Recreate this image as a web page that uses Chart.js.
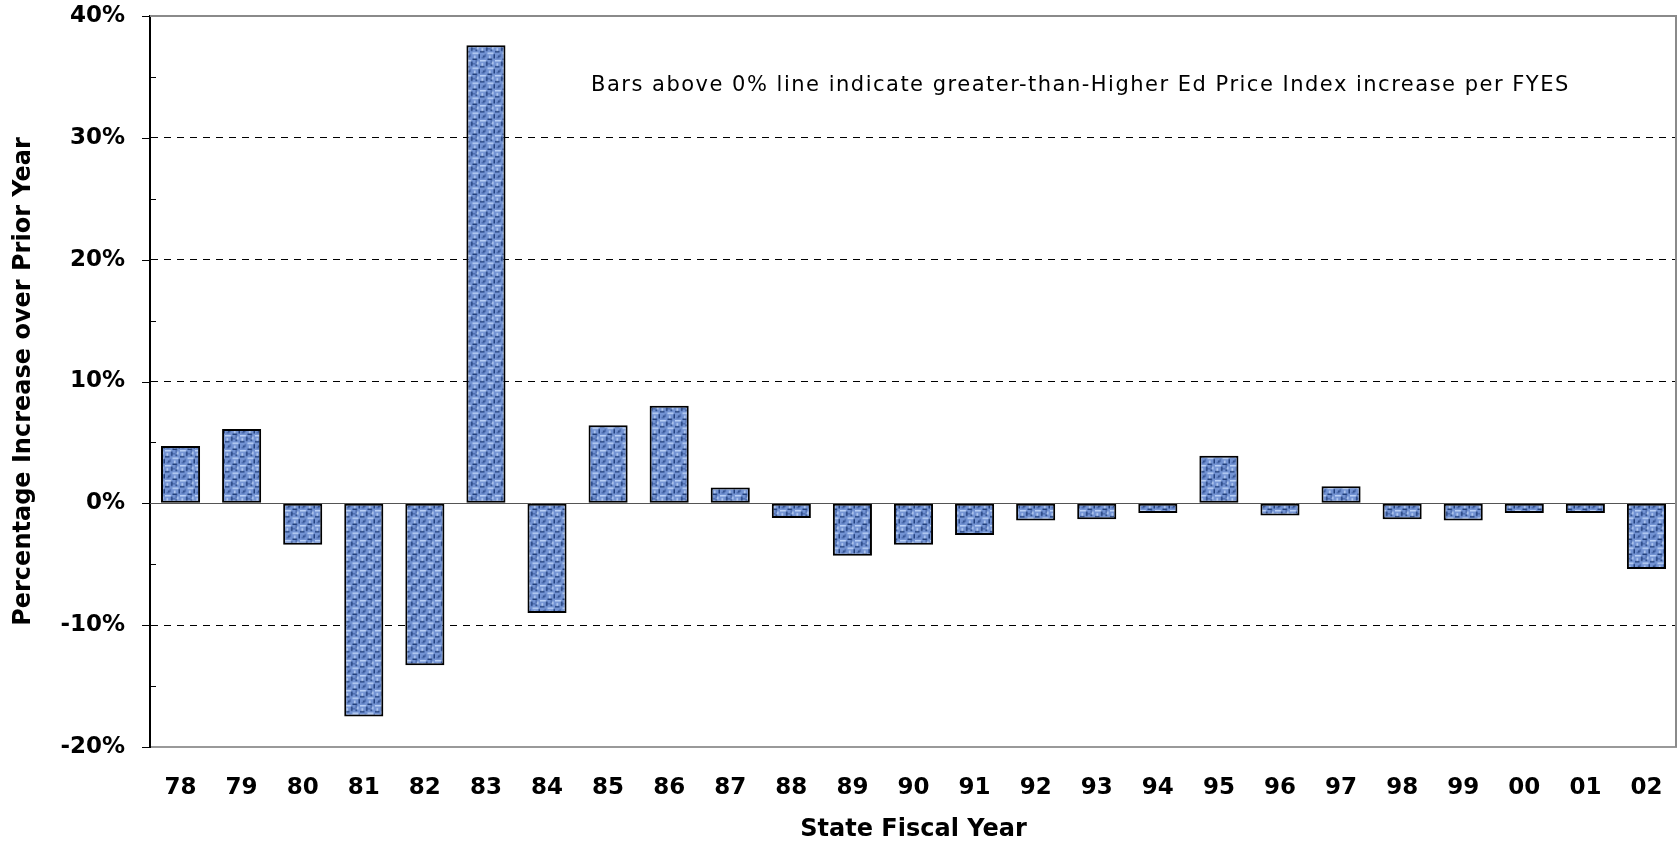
<!DOCTYPE html>
<html>
<head>
<meta charset="utf-8">
<script src="https://cdn.jsdelivr.net/npm/chart.js@4/dist/chart.umd.min.js"></script>
<style>
  body { margin: 0; background: #fff; }
  #wrap { width: 1677px; height: 843px; }
</style>
</head>
<body>
<div id="wrap"><canvas id="chartCanvas" width="1677" height="843"></canvas></div>
<script>
// state fiscal years and % increase over prior year
const years = ["78", "79", "80", "81", "82", "83", "84", "85", "86", "87", "88", "89",
  "90", "91", "92", "93", "94", "95", "96", "97", "98", "99", "00", "01", "02"];
const pctIncrease = [4.7, 6.1, -3.4, -17.5, -13.3, 37.6, -9.0, 6.4, 8.0, 1.3, -1.2, -4.3,
  -3.4, -2.6, -1.4, -1.3, -0.8, 3.9, -1.0, 1.4, -1.3, -1.4, -0.8, -0.8, -5.4];
const yTicks = [-20, -10, 0, 10, 20, 30, 40];
const noteText = "Bars above 0% line indicate greater-than-Higher Ed Price Index increase per FYES";

// woven blue texture for the bars (drawn small, scaled up so it blurs a bit)
function makeTexture() {
  const c = document.createElement("canvas");
  c.width = 10;
  c.height = 10;
  const g = c.getContext("2d");
  g.fillStyle = "#7393d3";
  g.fillRect(0, 0, 10, 10);
  g.fillStyle = "#b9cff4";
  g.fillRect(0, 0, 4, 1);
  g.fillRect(5, 5, 4, 1);
  g.fillRect(1, 2, 1, 2);
  g.fillRect(6, 7, 1, 2);
  g.fillRect(8, 1, 1, 2);
  g.fillStyle = "#22407c";
  g.fillRect(4, 1, 1, 3);
  g.fillRect(9, 6, 1, 3);
  g.fillRect(0, 4, 3, 1);
  g.fillRect(5, 9, 3, 1);
  g.fillRect(2, 7, 1, 1);
  g.fillRect(7, 3, 1, 1);
  g.fillStyle = "#4a6aac";
  g.fillRect(3, 6, 1, 2);
  g.fillRect(7, 0, 1, 2);
  g.fillRect(1, 8, 2, 1);
  g.fillRect(5, 2, 2, 1);
  const big = document.createElement("canvas");
  big.width = 15;
  big.height = 15;
  const bg = big.getContext("2d");
  bg.imageSmoothingEnabled = true;
  bg.drawImage(c, 0, 0, 15, 15);
  return bg.createPattern(big, "repeat");
}

const framePlugin = {
  id: "frame",
  afterDraw(chart) {
    const { ctx, chartArea: a, scales } = chart;
    const y = scales.y;
    ctx.save();
    // tick marks: major outside, minor inside the axis
    ctx.strokeStyle = "#000";
    ctx.lineWidth = 1;
    y.ticks.forEach((t) => {
      const py = Math.round(y.getPixelForValue(t.value)) + 0.5;
      ctx.beginPath();
      if (t.value % 10 !== 0) {
        ctx.moveTo(a.left, py);
        ctx.lineTo(a.left + 6, py);
      } else {
        ctx.moveTo(a.left - 8, py);
        ctx.lineTo(a.left, py);
      }
      ctx.stroke();
    });
    // zero line
    const z = Math.round(y.getPixelForValue(0)) + 0.5;
    ctx.strokeStyle = "#555";
    ctx.beginPath();
    ctx.moveTo(a.left, z);
    ctx.lineTo(a.right, z);
    ctx.stroke();
    // top and right border
    ctx.strokeStyle = "#8a8a8a";
    ctx.lineWidth = 2;
    ctx.beginPath();
    ctx.moveTo(a.left, a.top);
    ctx.lineTo(a.right - 1, a.top);
    ctx.lineTo(a.right - 1, a.bottom);
    ctx.stroke();
    // note text
    ctx.fillStyle = "#000";
    ctx.font = '21px "DejaVu Sans"';
    ctx.letterSpacing = "1.5px";
    ctx.textAlign = "left";
    ctx.textBaseline = "middle";
    ctx.fillText(noteText, scales.x.getPixelForValue(6.72), y.getPixelForValue(34.3));
    ctx.restore();
  },
};

const ctx = document.getElementById("chartCanvas").getContext("2d");

const chart = new Chart(ctx, {
  type: "bar",
  data: {
    labels: years,
    datasets: [
      {
        data: pctIncrease,
        backgroundColor: makeTexture(),
        borderColor: "#000",
        borderWidth: 2,
        borderSkipped: false,
        barPercentage: 0.64,
        categoryPercentage: 1,
      },
    ],
  },
  options: {
    responsive: false,
    devicePixelRatio: 1,
    animation: false,
    layout: { padding: { top: 16, right: 0, left: 0, bottom: 0 } },
    plugins: { legend: { display: false }, tooltip: { enabled: false } },
    scales: {
      x: {
        afterFit: (s) => {
          s.height = 96;
        },
        grid: { display: true, drawOnChartArea: false, drawTicks: true, tickLength: 27, tickColor: "rgba(0,0,0,0)", color: "rgba(0,0,0,0)" },
        border: { color: "#999", width: 2 },
        ticks: {
          autoSkip: false,
          maxRotation: 0,
          padding: 0,
          color: "#000",
          font: { family: "DejaVu Sans", size: 23, weight: "bold" },
        },
        title: {
          display: true,
          text: "State Fiscal Year",
          color: "#000",
          font: { family: "DejaVu Sans", size: 24, weight: "bold" },
          padding: { top: 0, bottom: -1 },
        },
      },
      y: {
        min: yTicks[0],
        max: yTicks[yTicks.length - 1],
        afterBuildTicks: (s) => {
          const t = [];
          for (let v = yTicks[0]; v <= yTicks[yTicks.length - 1]; v += 5) t.push({ value: v });
          s.ticks = t;
        },
        afterFit: (s) => {
          s.width = 150;
        },
        border: { color: "#000", width: 2, dash: [7, 6] },
        grid: {
          lineWidth: 1,
          tickLength: 25,
          color: (c) => {
            const v = c.tick && c.tick.value;
            return [30, 20, 10, -10].includes(v) ? "#000" : "rgba(0,0,0,0)";
          },
          tickColor: "rgba(0,0,0,0)",
        },
        ticks: {
          padding: 0,
          color: "#000",
          font: { family: "DejaVu Sans", size: 23, weight: "bold" },
          callback: (v) => (yTicks.includes(v) ? v + "%" : ""),
        },
        title: {
          display: true,
          text: "Percentage Increase over Prior Year",
          color: "#000",
          font: { family: "DejaVu Sans", size: 24, weight: "bold" },
          padding: { top: 9, bottom: 0 },
        },
      },
    },
  },
  plugins: [framePlugin],
});
</script>
</body>
</html>
